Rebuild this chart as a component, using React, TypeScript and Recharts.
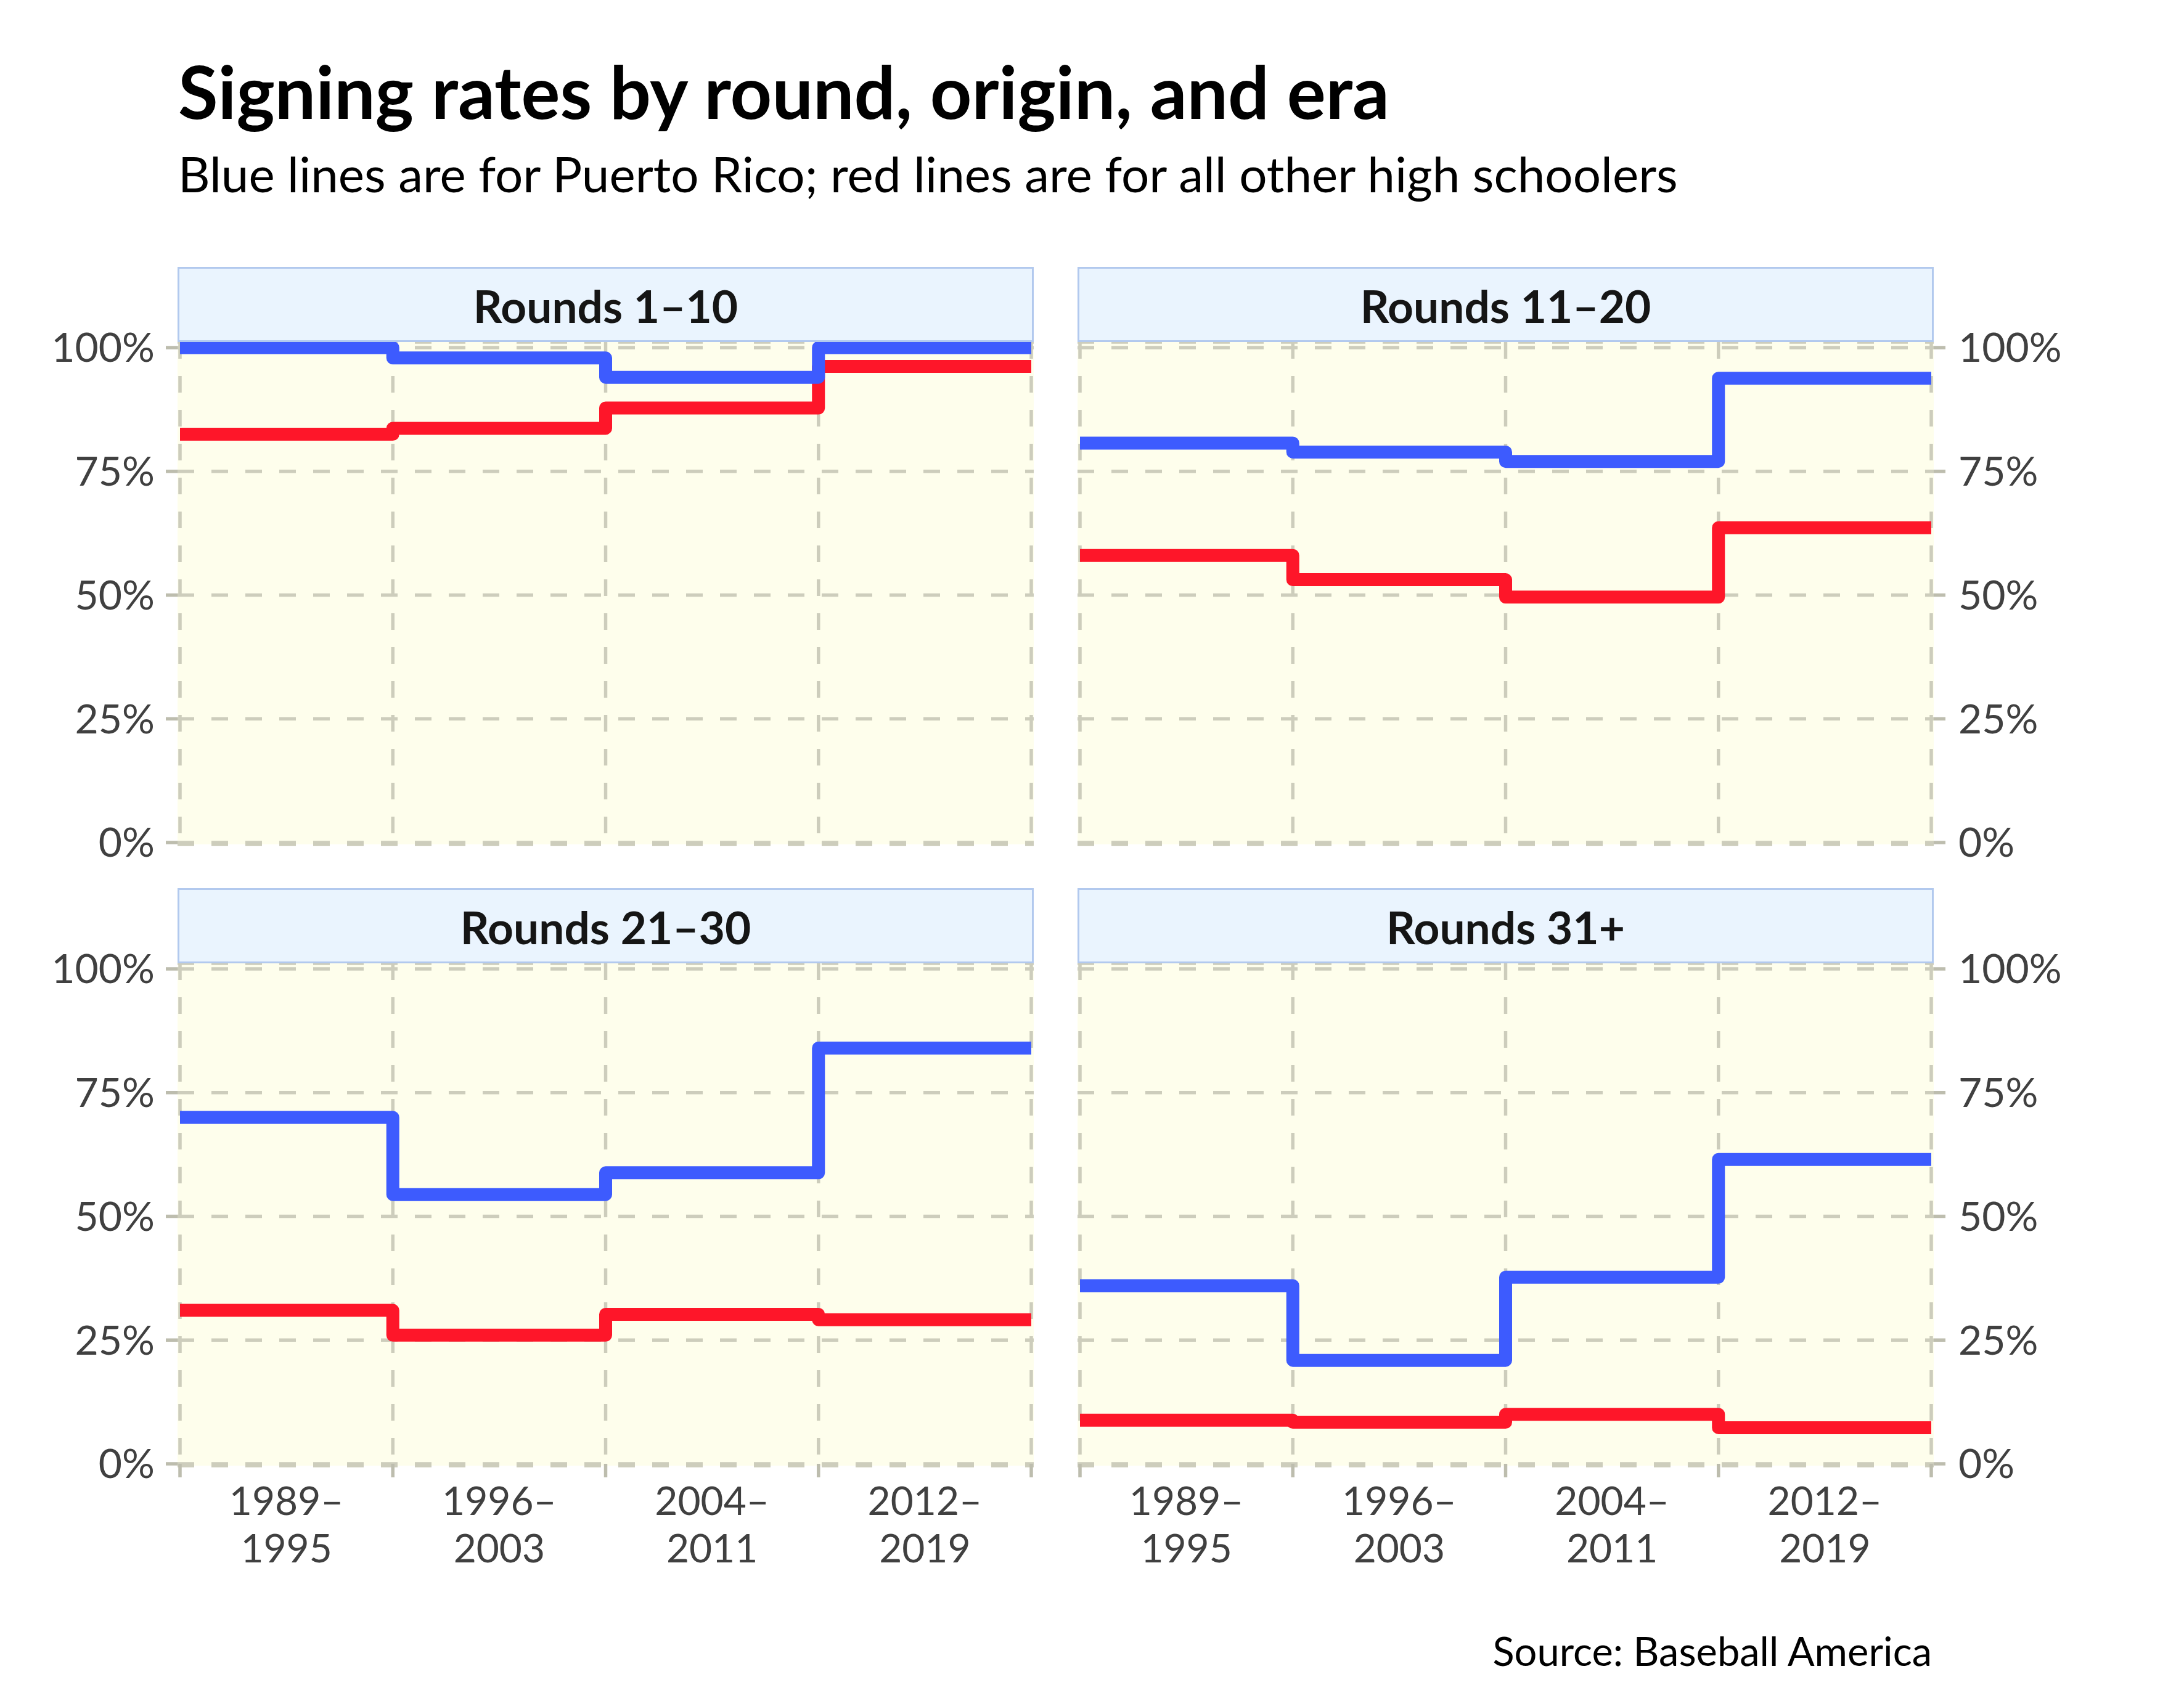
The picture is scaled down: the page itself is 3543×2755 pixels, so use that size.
import React from 'react';
import { LineChart, Line, XAxis, YAxis, CartesianGrid } from 'recharts';

// era boundaries on the x scale, labels sit between them
const ERA_EDGES = [0, 1, 2, 3, 4];
const ERA_LABELS = [
  ['1989–', '1995'],
  ['1996–', '2003'],
  ['2004–', '2011'],
  ['2012–', '2019'],
];
const Y_TICKS = [0, 0.25, 0.5, 0.75, 1];

const PANEL_TITLES = ['Rounds 1–10', 'Rounds 11–20', 'Rounds 21–30', 'Rounds 31+'];

// signing rate per era: Puerto Rico (blue) and all other high schoolers (red)
const puertoRico1to10 = [1.0, 0.979, 0.94, 1.0];
const others1to10 = [0.825, 0.837, 0.878, 0.962];
const puertoRico11to20 = [0.807, 0.789, 0.77, 0.938];
const others11to20 = [0.58, 0.531, 0.496, 0.636];
const puertoRico21to30 = [0.7, 0.544, 0.588, 0.84];
const others21to30 = [0.31, 0.26, 0.302, 0.291];
const puertoRico31plus = [0.36, 0.209, 0.377, 0.615];
const others31plus = [0.088, 0.084, 0.1, 0.073];

const BLUE = '#3D5BFE';
const RED = '#FE1629';
const GRID = '#CDCDBC';
const TICK = '#BDBDAE';
const FONT = 'Lato, "Noto Sans", sans-serif';

const PLOT_W = 1389;
const PLOT_H = 815;
const AXIS_W = 288;
const STRIP_H = 122;
const PAD_TOP = 40;

function XTick(props: any) {
  const { x, y, payload, showLabels } = props;
  const v = payload.value;
  if (!showLabels) return <g />;
  if (Number.isInteger(v)) {
    return <line x1={x} x2={x} y1={y - 3} y2={y + 19} stroke={TICK} strokeWidth={5.5} />;
  }
  const lbl = ERA_LABELS[Math.floor(v)];
  return (
    <g>
      <text x={x} y={y + 80} textAnchor="middle" fill="#404040" fontSize={64} fontFamily={FONT}>
        {lbl[0]}
      </text>
      <text x={x} y={y + 157} textAnchor="middle" fill="#404040" fontSize={64} fontFamily={FONT}>
        {lbl[1]}
      </text>
    </g>
  );
}

function Panel({ title, pr, other, left, top, side, showX }: any) {
  const rows = ERA_EDGES.map((e, i) => ({
    x: e,
    pr: pr[Math.min(i, pr.length - 1)],
    other: other[Math.min(i, other.length - 1)],
  }));
  const xHeight = showX ? 200 : 45;
  const chartW = PLOT_W + AXIS_W;
  const chartLeft = side === 'left' ? left - AXIS_W : left;
  const labelTicks = [0, 0.5, 1, 1.5, 2, 2.5, 3, 3.5, 4];

  return (
    <>
      <div style={{ position: 'absolute', left: chartLeft, top: top - PAD_TOP }}>
        <LineChart
          width={chartW}
          height={PAD_TOP + PLOT_H + xHeight}
          data={rows}
          margin={{ top: PAD_TOP, right: 0, bottom: 0, left: 0 }}
        >
          <CartesianGrid
            fill="#FEFEEC"
            stroke={GRID}
            strokeWidth={5.5}
            strokeDasharray="27 28"
            verticalValues={ERA_EDGES}
          />
          <XAxis
            dataKey="x"
            type="number"
            domain={[0, 4]}
            ticks={labelTicks}
            interval={0}
            padding={{ left: 4, right: 4 }}
            height={xHeight}
            axisLine={false}
            tickLine={false}
            tickSize={0}
            tickMargin={0}
            tick={<XTick showLabels={showX} />}
          />
          <YAxis
            type="number"
            domain={[0, 1]}
            ticks={Y_TICKS}
            interval={0}
            orientation={side}
            width={AXIS_W}
            padding={{ top: 9, bottom: 3 }}
            axisLine={false}
            tickLine={{ stroke: TICK, strokeWidth: 5.5 }}
            tickSize={19}
            tickMargin={side === 'left' ? 18 : 21}
            tickFormatter={(v: number) => `${Math.round(v * 100)}%`}
            tick={{ fill: '#404040', fontSize: 66, fontFamily: FONT }}
          />
          <Line
            type="stepAfter"
            dataKey="other"
            stroke={RED}
            strokeWidth={21}
            strokeLinejoin="round"
            strokeLinecap="butt"
            dot={false}
            activeDot={false}
            isAnimationActive={false}
          />
          <Line
            type="stepAfter"
            dataKey="pr"
            stroke={BLUE}
            strokeWidth={21}
            strokeLinejoin="round"
            strokeLinecap="butt"
            dot={false}
            activeDot={false}
            isAnimationActive={false}
          />
        </LineChart>
      </div>
      <div
        style={{
          position: 'absolute',
          left,
          top: top - STRIP_H,
          width: PLOT_W,
          height: STRIP_H,
          boxSizing: 'border-box',
          background: '#EAF4FE',
          border: '3px solid #B2C9EE',
          display: 'flex',
          alignItems: 'center',
          justifyContent: 'center',
          fontFamily: FONT,
          fontWeight: 700,
          fontSize: 73,
          color: '#151515',
          paddingTop: 4,
        }}
      >
        {title}
      </div>
    </>
  );
}

export default function App() {
  return (
    <div
      style={{
        position: 'absolute',
        left: 0,
        top: 0,
        width: 3543,
        height: 2755,
        background: '#fff',
        overflow: 'hidden',
      }}
    >
      <svg width={3543} height={2755} style={{ position: 'absolute', left: 0, top: 0 }}>
        <text x={289} y={193} fontFamily={FONT} fontWeight={700} fontSize={118} fill="#000">
          Signing rates by round, origin, and era
        </text>
        <text x={289} y={312} fontFamily={FONT} fontSize={80} fill="#000">
          Blue lines are for Puerto Rico; red lines are for all other high schoolers
        </text>
        <text x={3134} y={2703} textAnchor="end" fontFamily={FONT} fontSize={65} fill="#000">
          Source: Baseball America
        </text>
      </svg>
      <Panel title={PANEL_TITLES[0]} pr={puertoRico1to10} other={others1to10} left={288} top={555} side="left" showX={false} />
      <Panel title={PANEL_TITLES[1]} pr={puertoRico11to20} other={others11to20} left={1748} top={555} side="right" showX={false} />
      <Panel title={PANEL_TITLES[2]} pr={puertoRico21to30} other={others21to30} left={288} top={1563} side="left" showX={true} />
      <Panel title={PANEL_TITLES[3]} pr={puertoRico31plus} other={others31plus} left={1748} top={1563} side="right" showX={true} />
    </div>
  );
}
